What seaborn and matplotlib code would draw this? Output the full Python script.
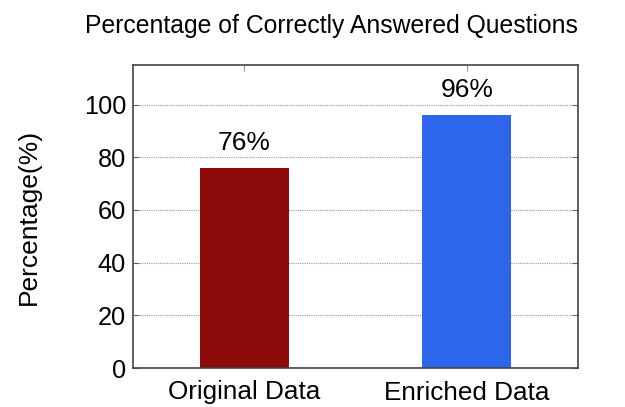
import matplotlib
matplotlib.use("Agg")
import matplotlib.pyplot as plt
import seaborn as sns
import pandas as pd

# chart data
categories = ["Original Data", "Enriched Data"]
percentages = [76, 96]
labels = ["76%", "96%"]
bar_colors = ["#8e0b0b", "#2c66ea"]

df = pd.DataFrame({"Dataset": categories, "Percentage": percentages})

sns.set_style("white")
plt.rcParams["font.family"] = ["Liberation Sans", "DejaVu Sans"]
plt.rcParams["text.color"] = "black"
plt.rcParams["axes.labelcolor"] = "black"
plt.rcParams["xtick.labelcolor"] = "black"
plt.rcParams["ytick.labelcolor"] = "black"

fig = plt.figure(figsize=(6.25, 4.07), dpi=100)
ax = fig.add_axes([133 / 625, 1 - 368 / 407, 445 / 625, 303 / 407])

sns.barplot(data=df, x="Dataset", y="Percentage", hue="Dataset",
            palette=bar_colors, width=0.4, legend=False, ax=ax,
            edgecolor="none", saturation=1)

for i, (v, t) in enumerate(zip(percentages, labels)):
    ax.text(i, v + 5, t, ha="center", va="bottom", fontsize=19)

ax.set_xlim(-0.5, 1.5)
ax.set_ylim(0, 115)
ax.set_yticks([0, 20, 40, 60, 80, 100])
ax.yaxis.grid(True, linestyle=(0, (1, 1)), color="#999999", linewidth=0.8)
ax.set_axisbelow(True)
for s in ax.spines.values():
    s.set_visible(True)
    s.set_color("#444444")
    s.set_linewidth(1.2)
ax.tick_params(axis="y", direction="in", length=4, labelsize=18.3, right=True, left=True, color="#666666", pad=5)
ax.tick_params(axis="x", direction="in", length=4, labelsize=18.8, top=True, bottom=False, color="#999999", pad=9)
ax.set_xlabel("")
ax.set_ylabel("Percentage(%)", fontsize=19, labelpad=31)

fig.text(331 / 625, 1 - 26 / 407, "Percentage of Correctly Answered Questions",
         ha="center", va="center", fontsize=17.8)

fig.savefig("out.png", dpi=100)
